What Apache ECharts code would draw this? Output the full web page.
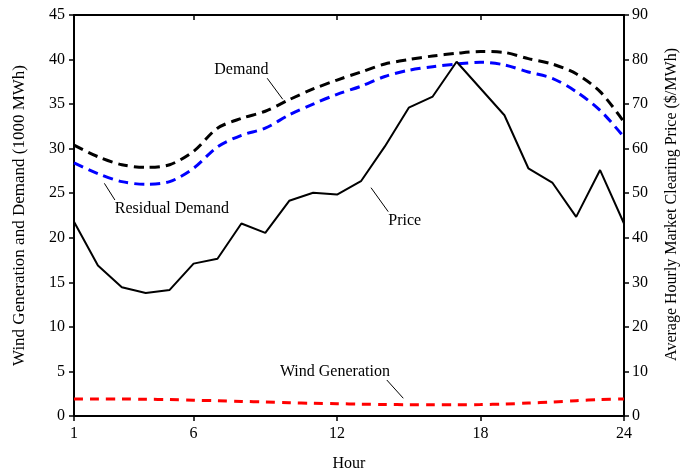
<!DOCTYPE html>
<html><head><meta charset="utf-8">
<script src="https://cdn.jsdelivr.net/npm/echarts@6/dist/echarts.min.js"></script>
<style>html,body{margin:0;padding:0;background:#fff}#c{width:683px;height:472px}</style>
</head><body><div id="c"></div>
<script>
const hours = [1,2,3,4,5,6,7,8,9,10,11,12,13,14,15,16,17,18,19,20,21,22,23,24];
const demand = [30.4,29.1,28.2,27.9,28.2,29.7,32.3,33.4,34.2,35.5,36.7,37.7,38.6,39.5,40.0,40.4,40.7,40.9,40.8,40.1,39.5,38.4,36.4,33.0];
const residualDemand = [28.4,27.2,26.3,26.0,26.3,27.8,30.2,31.5,32.3,33.8,35.0,36.1,37.0,38.1,38.8,39.2,39.5,39.7,39.4,38.6,37.9,36.4,34.3,31.3];
const windGeneration = [1.92,1.92,1.91,1.88,1.84,1.77,1.72,1.64,1.57,1.49,1.43,1.38,1.33,1.29,1.27,1.26,1.26,1.28,1.34,1.45,1.57,1.72,1.85,1.92];
const price = [43.6,33.8,28.9,27.6,28.3,34.2,35.3,43.2,41.1,48.3,50.1,49.7,52.7,60.5,69.2,71.7,79.5,73.5,67.5,55.6,52.4,44.7,55.2,43.2];
const xTickValues = [1,6,12,18,24];
const xTopTickValues = [6,12,18];

const FONT = '"Liberation Serif", "Times New Roman", serif';
const pair = (xs, ys) => xs.map((x, i) => [x, ys[i]]);

const annotations = [
  {text: 'Demand', at: [8.00, 38.83], line: [[9.08, 37.90], [9.73, 35.54]]},
  {text: 'Residual Demand', at: [5.09, 23.23], line: [[2.27, 26.11], [2.71, 24.24]]},
  {text: 'Price', at: [14.83, 21.92], line: [[13.42, 25.62], [14.14, 22.93]]},
  {text: 'Wind Generation', at: [11.91, 4.97], line: [[14.08, 4.04], [14.77, 1.99]]}
];

const chart = echarts.init(document.getElementById('c'), null, {renderer: 'canvas'});
const axisText = {color: '#000', fontFamily: FONT, fontSize: 16};
chart.setOption({
  animation: false,
  backgroundColor: '#fff',
  grid: {left: 74, right: 59, top: 15, bottom: 56, outerBoundsMode: 'none', containLabel: false},
  xAxis: [{
    type: 'value', min: 1, max: 24, position: 'bottom',
    name: 'Hour', nameLocation: 'middle', nameGap: 40, nameTextStyle: axisText,
    axisLine: {show: true, lineStyle: {color: '#000', width: 2}},
    axisTick: {show: true, inside: false, length: 5, lineStyle: {color: '#000', width: 1.5}, customValues: xTickValues},
    axisLabel: {color: '#000', fontFamily: FONT, fontSize: 16, margin: 10, customValues: xTickValues},
    splitLine: {show: false}
  }, {
    type: 'value', min: 1, max: 24, position: 'top',
    axisLine: {show: true, onZero: false, lineStyle: {color: '#000', width: 2}},
    axisTick: {show: true, inside: true, length: 5, lineStyle: {color: '#000', width: 1.5}, customValues: xTopTickValues},
    axisLabel: {show: false},
    splitLine: {show: false}
  }],
  yAxis: [{
    type: 'value', min: 0, max: 45, interval: 5, position: 'left',
    name: 'Wind Generation and Demand (1000 MWh)', nameLocation: 'middle', nameGap: 46,
    nameTextStyle: {color: '#000', fontFamily: FONT, fontSize: 17},
    axisLine: {show: true, lineStyle: {color: '#000', width: 2}},
    axisTick: {show: true, inside: false, length: 5, lineStyle: {color: '#000', width: 1.5}},
    axisLabel: {color: '#000', fontFamily: FONT, fontSize: 16, margin: 9},
    splitLine: {show: false}
  }, {
    type: 'value', min: 0, max: 90, interval: 10, position: 'right',
    name: 'Average Hourly Market Clearing Price ($/MWh)', nameLocation: 'middle', nameGap: 40,
    nameTextStyle: {color: '#000', fontFamily: FONT, fontSize: 16, padding: [0, 0, 0, 22]},
    axisLine: {show: true, lineStyle: {color: '#000', width: 2}},
    axisTick: {show: true, inside: false, length: 5, lineStyle: {color: '#000', width: 1.5}},
    axisLabel: {color: '#000', fontFamily: FONT, fontSize: 16, margin: 8},
    splitLine: {show: false}
  }],
  series: [{
    name: 'Demand', type: 'line', yAxisIndex: 0, data: pair(hours, demand),
    smooth: 0.3, showSymbol: false, symbol: 'none',
    lineStyle: {color: '#000', width: 3, type: [10, 6]},
    markLine: {
      silent: true, symbol: 'none', label: {show: false},
      lineStyle: {color: '#000', width: 1, type: 'solid'},
      data: annotations.map(a => [{coord: a.line[0]}, {coord: a.line[1]}])
    },
    markPoint: {
      silent: true, symbol: 'circle', symbolSize: 0,
      data: annotations.map(a => ({coord: a.at, value: a.text,
        label: {show: true, position: 'inside', formatter: a.text, color: '#000', fontFamily: FONT, fontSize: 16}}))
    }
  }, {
    name: 'Residual Demand', type: 'line', yAxisIndex: 0, data: pair(hours, residualDemand),
    smooth: 0.3, showSymbol: false, symbol: 'none',
    lineStyle: {color: '#0000ff', width: 3, type: [10, 6]}
  }, {
    name: 'Wind Generation', type: 'line', yAxisIndex: 0, data: pair(hours, windGeneration),
    smooth: 0.3, showSymbol: false, symbol: 'none',
    lineStyle: {color: '#ff0000', width: 3, type: [9, 7]}
  }, {
    name: 'Price', type: 'line', yAxisIndex: 1, data: pair(hours, price),
    showSymbol: false, symbol: 'none',
    lineStyle: {color: '#000', width: 2}
  }]
});
</script></body></html>
